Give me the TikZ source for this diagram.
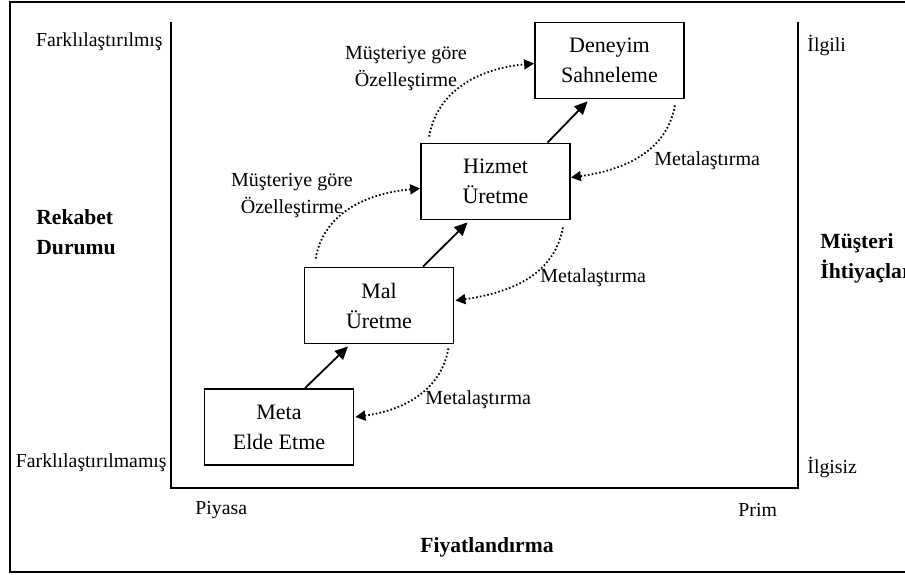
\documentclass[tikz,border=0pt]{standalone}
\usepackage{fontspec}
\setmainfont{Liberation Serif}
\usetikzlibrary{arrows.meta,calc}

\begin{document}
\begin{tikzpicture}[
  x=0.5pt, y=-0.5pt,
  stage/.style={draw, line width=0.9pt, minimum width=74.5pt, minimum height=38pt, align=center, font=\fontsize{11}{15}\selectfont},
  lbl/.style={font=\fontsize{10}{13.5}\selectfont, align=center, inner sep=0pt},
  axlbl/.style={font=\fontsize{9.9}{13}\selectfont, inner sep=0pt},
  ttl/.style={font=\fontsize{10.8}{15}\selectfont\bfseries, align=left, inner sep=0pt},
  up/.style={-{Triangle[length=6.5pt,width=6pt]}, line width=0.9pt},
  dots/.style={-{Triangle[length=5pt,width=5pt]}, dash pattern=on 0.8pt off 1.1pt, line width=0.9pt},
]
\useasboundingbox (0,0) rectangle (905,574);

% --- frame and axes ---
\draw[line width=1pt] (905,2) -- (10,2) -- (10,572) -- (905,572);
\draw[line width=1pt] (171,22) -- (171,488) -- (798,488) -- (798,22);

% --- axis texts ---
\node[axlbl, anchor=east] (diff) at (163,42) {Farklılaştırılmış};
\node[axlbl, anchor=east] (undiff) at (167,463) {Farklılaştırılmamış};
\node[axlbl, anchor=west] (ilgili) at (807,45) {İlgili};
\node[axlbl, anchor=west] (ilgisiz) at (807,467) {İlgisiz};
\node[axlbl, anchor=west] (piyasa) at (195,510) {Piyasa};
\node[axlbl, anchor=west] (prim) at (738,510) {Prim};
\node[ttl, anchor=west] (rekabet) at (36,232) {Rekabet\\Durumu};
\node[ttl, anchor=west] (musteri) at (820,258) {Müşteri\\İhtiyaçları};
\node[ttl] (fiyat) at (487,547) {Fiyatlandırma};

% --- stages ---
\node[stage] (meta) at (279,427) {Meta\\Elde Etme};
\node[stage] (mal) at (379,305.5) {Mal\\Üretme};
\node[stage] (hizmet) at (495.5,181.5) {Hizmet\\Üretme};
\node[stage] (deneyim) at (609.5,60.5) {Deneyim\\Sahneleme};

% progression
\draw[up] ($(meta.north)+(26,0)$) -- ($(mal.south)+(-31,2)$);
\draw[up] ($(mal.north)+(44,0)$) -- ($(hizmet.south)+(-28,2)$);
\draw[up] ($(hizmet.north)+(52,0)$) -- ($(deneyim.south)+(-22,2)$);

% Metalastirma (back down)
\draw[dots] ($(mal.south east)+(-6,4)$) to[out=-100, in=8] ($(meta.east)+(1,-10)$);
\draw[dots] ($(hizmet.south east)+(-8,7)$) to[out=-100, in=8] ($(mal.east)+(1,-5)$);
\draw[dots] ($(deneyim.south east)+(-10,6)$) to[out=-100, in=8] ($(hizmet.east)+(0,-4)$);
\node[lbl, anchor=west] (met1) at (425,400) {Metalaştırma};
\node[lbl, anchor=west] (met2) at (540,278) {Metalaştırma};
\node[lbl, anchor=west] (met3) at (654,161) {Metalaştırma};

% Musteriye gore Ozellestirme (jump up)
\draw[dots] ($(mal.north west)+(12,-8)$) to[out=80, in=185] ($(hizmet.west)+(0,7)$);
\draw[dots] ($(hizmet.north west)+(9,-6)$) to[out=80, in=185] ($(deneyim.west)+(0,3)$);
\node[lbl] (mus1) at (292,196) {Müşteriye göre\\Özelleştirme};
\node[lbl] (mus2) at (406,69) {Müşteriye göre\\Özelleştirme};
\end{tikzpicture}
\end{document}
